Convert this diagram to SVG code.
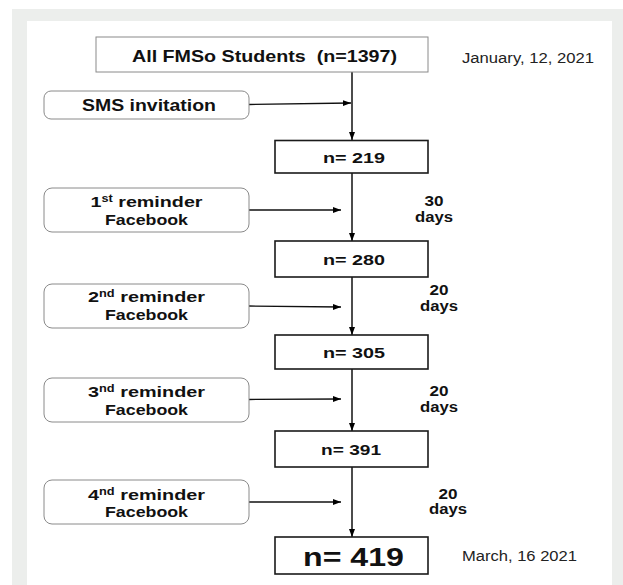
<svg xmlns="http://www.w3.org/2000/svg" width="623" height="585" viewBox="0 0 623 585">
<defs>
<marker id="ah" markerUnits="userSpaceOnUse" markerWidth="9" markerHeight="7" refX="8" refY="3.5" orient="auto">
<path d="M0,0.5 L8,3.5 L0,6.5 z" fill="#000"/>
</marker>
<style>
.b{font-family:"Liberation Sans",Arial,sans-serif;font-weight:bold;fill:#111;}
.r{font-family:"Liberation Sans",Arial,sans-serif;fill:#222;}
.box{fill:#fff;stroke:#1a1a1a;stroke-width:1.6;}
.rbox{fill:#fff;stroke:#8a8a8a;stroke-width:1;}
.con{stroke:#111;stroke-width:1.5;fill:none;}
.hcon{stroke:#111;stroke-width:1.3;fill:none;}
.sup{font-size:10px;}
</style>
</defs>
<rect x="0" y="0" width="623" height="585" fill="#fff"/>
<rect x="12" y="9" width="611" height="576" fill="#eceeec"/>
<rect x="27" y="21" width="585" height="564" fill="#fff"/>

<g id="connectors">
<line class="con" x1="352" y1="72" x2="352" y2="140" marker-end="url(#ah)"/>
<line class="con" x1="352" y1="173" x2="352" y2="241" marker-end="url(#ah)"/>
<line class="con" x1="352" y1="277" x2="352" y2="335" marker-end="url(#ah)"/>
<line class="con" x1="352" y1="369" x2="352" y2="431" marker-end="url(#ah)"/>
<line class="con" x1="352" y1="467" x2="352" y2="537" marker-end="url(#ah)"/>
<line class="hcon" x1="249" y1="104.5" x2="351" y2="103" marker-end="url(#ah)"/>
<line class="hcon" x1="249" y1="210" x2="341" y2="210" marker-end="url(#ah)"/>
<line class="hcon" x1="249" y1="306" x2="341" y2="307" marker-end="url(#ah)"/>
<line class="hcon" x1="249" y1="399.5" x2="341" y2="399" marker-end="url(#ah)"/>
<line class="hcon" x1="249" y1="502" x2="341" y2="502" marker-end="url(#ah)"/>
</g>

<g id="all-students">
<rect x="96" y="37" width="332" height="35" fill="#fff" stroke="#8a8a8a" stroke-width="1"/>
<text class="b" x="264.5" y="62" font-size="16.5" text-anchor="middle" textLength="265" lengthAdjust="spacingAndGlyphs" style="white-space:pre">All FMSo Students  (n=1397)</text>
</g>
<g id="date-start">
<text class="r" x="462" y="63" font-size="14" textLength="132" lengthAdjust="spacingAndGlyphs">January, 12, 2021</text>
</g>

<g id="sms">
<rect class="rbox" x="44" y="91" width="205" height="28" rx="7"/>
<text class="b" x="149" y="111" font-size="16.5" text-anchor="middle" textLength="134" lengthAdjust="spacingAndGlyphs">SMS invitation</text>
</g>

<g id="n219">
<rect class="box" x="275" y="140.5" width="153" height="32.5"/>
<text class="b" x="354" y="163" font-size="15.5" text-anchor="middle" textLength="62" lengthAdjust="spacingAndGlyphs">n= 219</text>
</g>

<g id="reminder1">
<rect class="rbox" x="44" y="188" width="205" height="44" rx="8"/>
<text class="b" x="146.5" y="207" font-size="15.5" text-anchor="middle" textLength="112" lengthAdjust="spacingAndGlyphs">1<tspan class="sup" dy="-5">st</tspan><tspan dy="5"> reminder</tspan></text>
<text class="b" x="146.5" y="225" font-size="15.5" text-anchor="middle" textLength="83" lengthAdjust="spacingAndGlyphs">Facebook</text>
</g>
<g id="gap1">
<text class="b" x="434" y="206" font-size="14" text-anchor="middle" textLength="19" lengthAdjust="spacingAndGlyphs">30</text>
<text class="b" x="434" y="222" font-size="14" text-anchor="middle" textLength="38" lengthAdjust="spacingAndGlyphs">days</text>
</g>

<g id="n280">
<rect class="box" x="275" y="241" width="153" height="36"/>
<text class="b" x="354" y="265" font-size="15.5" text-anchor="middle" textLength="62" lengthAdjust="spacingAndGlyphs">n= 280</text>
</g>

<g id="reminder2">
<rect class="rbox" x="44" y="284" width="205" height="44" rx="8"/>
<text class="b" x="146.5" y="302" font-size="15.5" text-anchor="middle" textLength="117" lengthAdjust="spacingAndGlyphs">2<tspan class="sup" dy="-5">nd</tspan><tspan dy="5"> reminder</tspan></text>
<text class="b" x="146.5" y="320" font-size="15.5" text-anchor="middle" textLength="83" lengthAdjust="spacingAndGlyphs">Facebook</text>
</g>
<g id="gap2">
<text class="b" x="439" y="295" font-size="14" text-anchor="middle" textLength="19" lengthAdjust="spacingAndGlyphs">20</text>
<text class="b" x="439" y="311" font-size="14" text-anchor="middle" textLength="38" lengthAdjust="spacingAndGlyphs">days</text>
</g>

<g id="n305">
<rect class="box" x="275" y="335" width="153" height="34"/>
<text class="b" x="354" y="358" font-size="15.5" text-anchor="middle" textLength="62" lengthAdjust="spacingAndGlyphs">n= 305</text>
</g>

<g id="reminder3">
<rect class="rbox" x="44" y="378" width="205" height="44" rx="8"/>
<text class="b" x="146.5" y="397" font-size="15.5" text-anchor="middle" textLength="117" lengthAdjust="spacingAndGlyphs">3<tspan class="sup" dy="-5">nd</tspan><tspan dy="5"> reminder</tspan></text>
<text class="b" x="146.5" y="415" font-size="15.5" text-anchor="middle" textLength="83" lengthAdjust="spacingAndGlyphs">Facebook</text>
</g>
<g id="gap3">
<text class="b" x="439" y="396" font-size="14" text-anchor="middle" textLength="19" lengthAdjust="spacingAndGlyphs">20</text>
<text class="b" x="439" y="412" font-size="14" text-anchor="middle" textLength="38" lengthAdjust="spacingAndGlyphs">days</text>
</g>

<g id="n391">
<rect class="box" x="275" y="431" width="153" height="36"/>
<text class="b" x="351" y="455" font-size="15.5" text-anchor="middle" textLength="60" lengthAdjust="spacingAndGlyphs">n= 391</text>
</g>

<g id="reminder4">
<rect class="rbox" x="44" y="480" width="205" height="44" rx="8"/>
<text class="b" x="146.5" y="500" font-size="15.5" text-anchor="middle" textLength="117" lengthAdjust="spacingAndGlyphs">4<tspan class="sup" dy="-5">nd</tspan><tspan dy="5"> reminder</tspan></text>
<text class="b" x="146.5" y="517" font-size="15.5" text-anchor="middle" textLength="83" lengthAdjust="spacingAndGlyphs">Facebook</text>
</g>
<g id="gap4">
<text class="b" x="448" y="499" font-size="14" text-anchor="middle" textLength="19" lengthAdjust="spacingAndGlyphs">20</text>
<text class="b" x="448" y="514" font-size="14" text-anchor="middle" textLength="38" lengthAdjust="spacingAndGlyphs">days</text>
</g>

<g id="n419">
<rect class="box" x="275" y="537" width="153" height="37" stroke-width="2"/>
<text class="b" x="353.5" y="566" font-size="26.5" text-anchor="middle" textLength="101" lengthAdjust="spacingAndGlyphs">n= 419</text>
</g>
<g id="date-end">
<text class="r" x="462" y="561" font-size="14" textLength="115" lengthAdjust="spacingAndGlyphs">March, 16 2021</text>
</g>
</svg>
